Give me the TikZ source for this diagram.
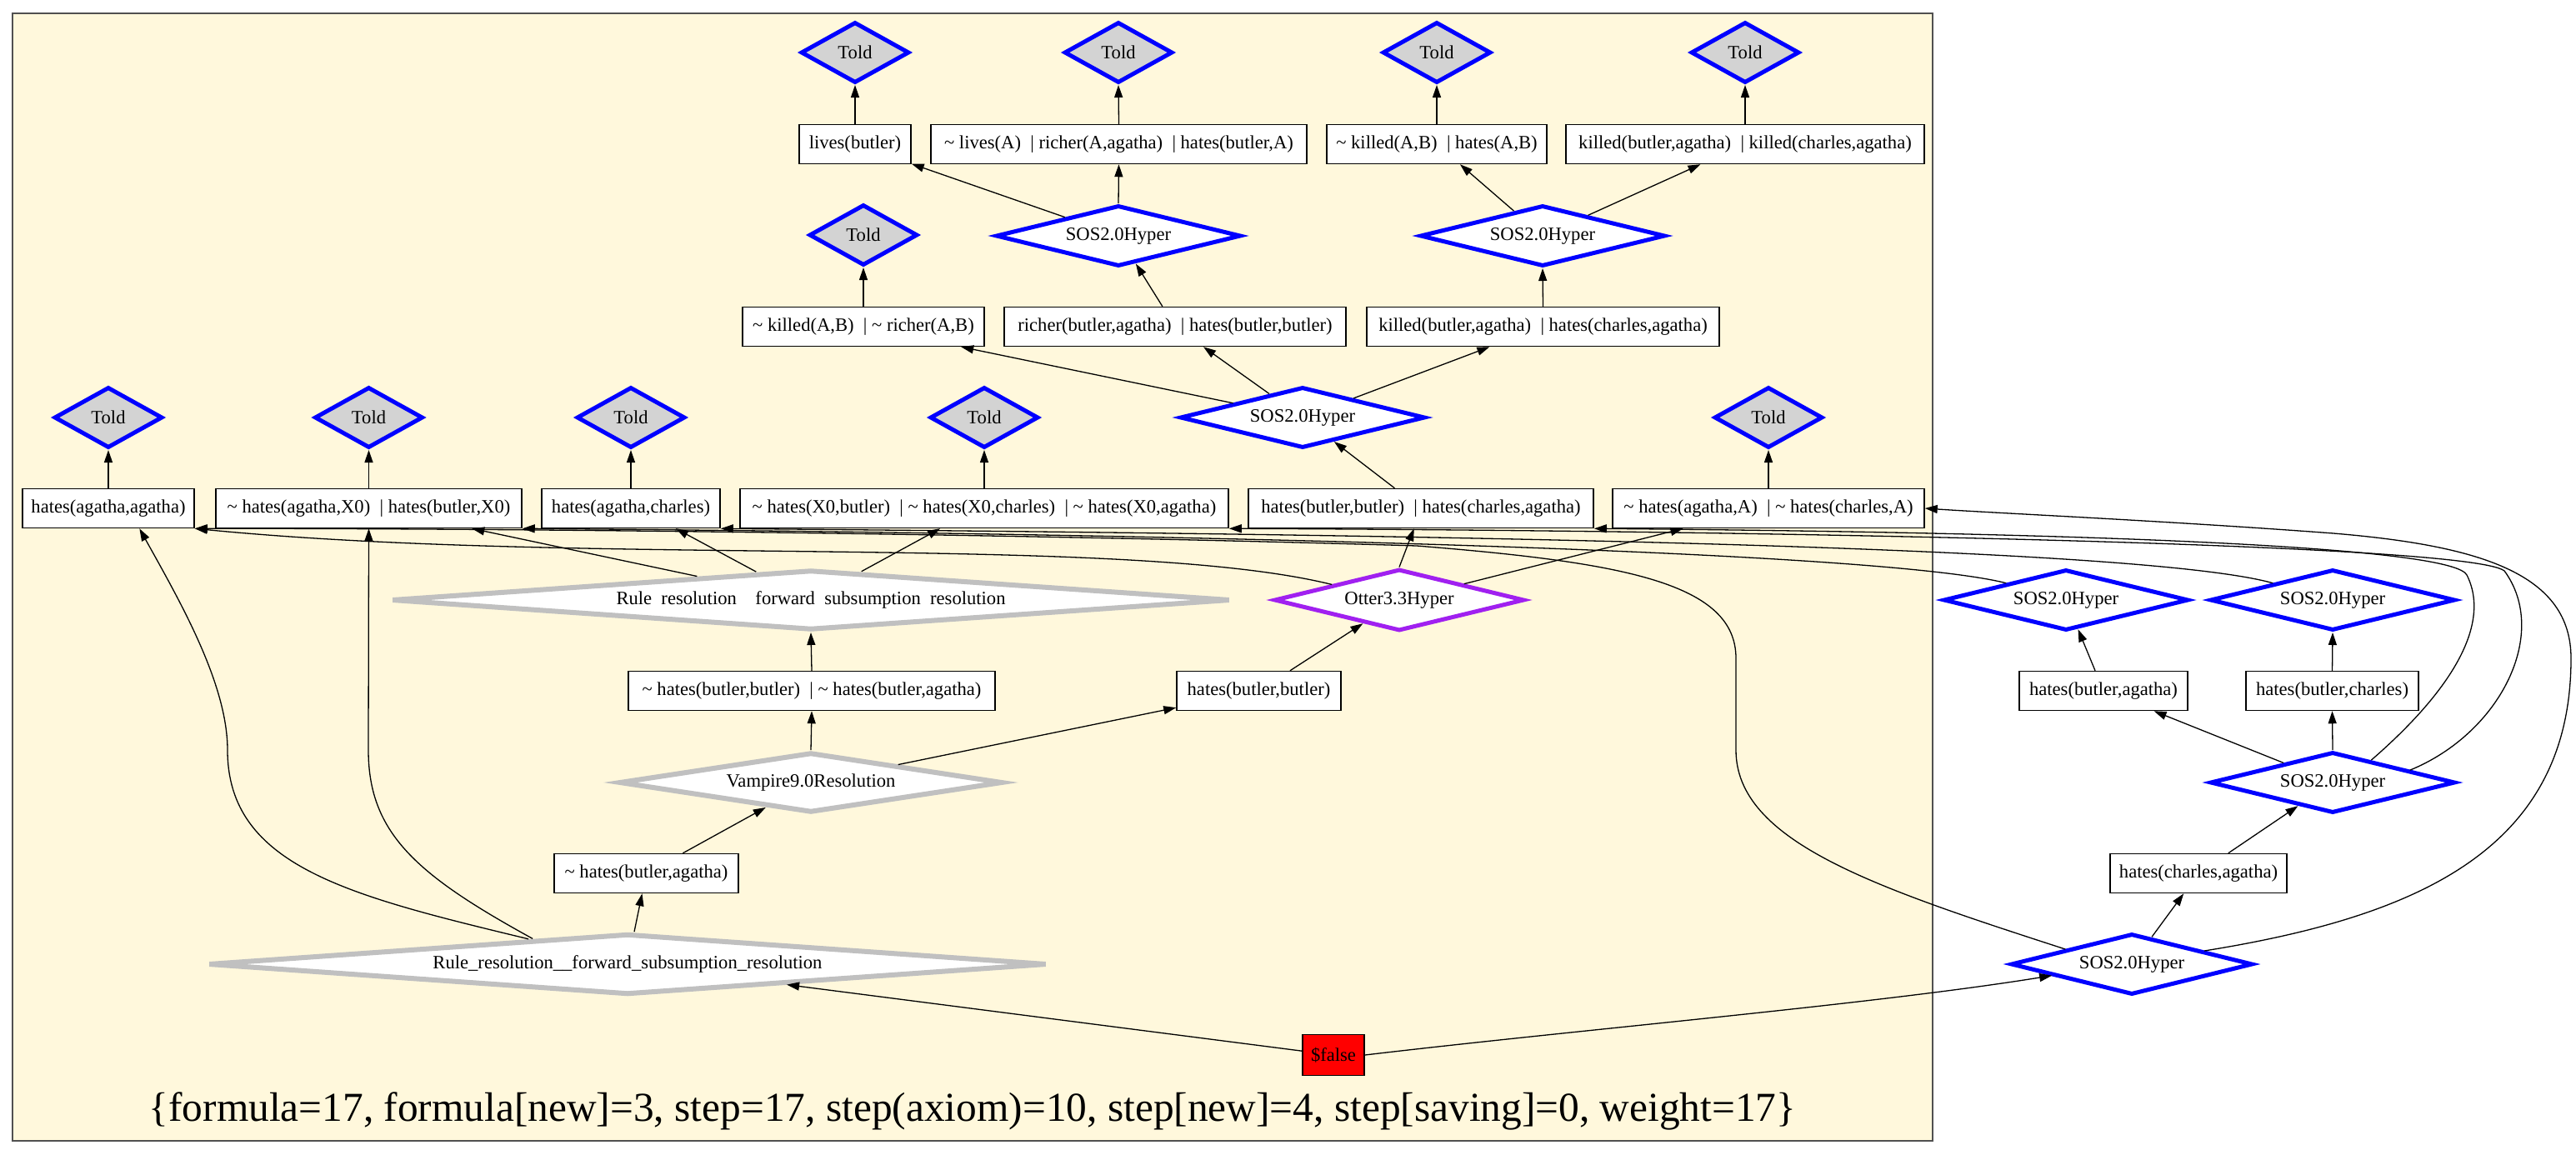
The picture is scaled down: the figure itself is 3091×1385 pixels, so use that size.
\documentclass[tikz,border=0pt]{standalone}
\usepackage{fontspec}
\setmainfont{Liberation Serif}
\usetikzlibrary{shapes.geometric,arrows.meta,calc}
\definecolor{cornsilk}{HTML}{FFF8DC}
\definecolor{toldgray}{HTML}{D3D3D3}
\definecolor{silvergr}{HTML}{C0C0C0}
\definecolor{purp}{HTML}{A020F0}
\definecolor{clborder}{HTML}{505050}
\newcommand{\nf}{\fontsize{22.6pt}{26pt}\selectfont}
\newcommand{\negt}{\textasciitilde\ }
\newcommand{\orbar}{\ \ |\ }
\begin{document}
\begin{tikzpicture}[x=1pt,y=-1pt,
  box/.style={draw=black, line width=1.5pt, fill=white, minimum height=47pt, inner sep=0pt, font=\nf},
  told/.style={diamond, draw=blue, fill=toldgray, line width=5pt, minimum width=130pt, minimum height=73pt, inner sep=0pt, font=\nf},
  sos/.style={diamond, aspect=4, draw=blue, fill=white, line width=5pt, minimum width=294pt, minimum height=73pt, inner sep=0pt, font=\nf},
  grd/.style={diamond, aspect=14, draw=silvergr, fill=white, line width=6pt, minimum height=72pt, inner sep=0pt, font=\nf},
  conn/.style={-{Triangle[length=15pt,width=10pt]}, line width=1.3pt, black},
]
\fill[white] (0,0) rectangle (3091,1385);
\useasboundingbox (0,0) rectangle (3091,1385);
\node[draw=clborder, fill=cornsilk, line width=2pt, minimum width=2304pt, minimum height=1353pt, inner sep=0pt] (cluster) at (1167,692.5) {};

% row 1
\node[told] (told1) at (1026,63) {Told};
\node[told] (told2) at (1342,63) {Told};
\node[told] (told3) at (1724,63) {Told};
\node[told] (told4) at (2094,63) {Told};
% row 2
\node[box, minimum width=134pt] (livesB) at (1026,173) {lives(butler)};
\node[box, minimum width=451pt] (livesA) at (1342.5,173) {\negt lives(A)\orbar richer(A,agatha)\orbar hates(butler,A)};
\node[box, minimum width=264pt] (kAB) at (1724,173) {\negt killed(A,B)\orbar hates(A,B)};
\node[box, minimum width=430pt] (kk) at (2094,173) {killed(butler,agatha)\orbar killed(charles,agatha)};
% row 3
\node[told] (told5) at (1036,282) {Told};
\node[sos] (sosA) at (1342,283) {SOS2.0Hyper};
\node[sos] (sosB) at (1851,283) {SOS2.0Hyper};
% row 4
\node[box, minimum width=290pt] (kr) at (1036,392) {\negt killed(A,B)\orbar\negt richer(A,B)};
\node[box, minimum width=410pt] (rbh) at (1410,392) {richer(butler,agatha)\orbar hates(butler,butler)};
\node[box, minimum width=423pt] (kh) at (1851.5,392) {killed(butler,agatha)\orbar hates(charles,agatha)};
% row 5
\node[told] (told6) at (130,501) {Told};
\node[told] (told7) at (442.5,501) {Told};
\node[told] (told8) at (757,501) {Told};
\node[told] (told9) at (1181,501) {Told};
\node[sos] (sosC) at (1563,501) {SOS2.0Hyper};
\node[told] (told10) at (2122,501) {Told};
% row 6
\node[box, minimum width=206pt] (haa) at (130,610) {hates(agatha,agatha)};
\node[box, minimum width=367pt] (hax0) at (442.5,610) {\negt hates(agatha,X0)\orbar hates(butler,X0)};
\node[box, minimum width=214pt] (hac) at (757,610) {hates(agatha,charles)};
\node[box, minimum width=586pt] (x0) at (1181,610) {\negt hates(X0,butler)\orbar\negt hates(X0,charles)\orbar\negt hates(X0,agatha)};
\node[box, minimum width=414pt] (hbhca) at (1705,610) {hates(butler,butler)\orbar hates(charles,agatha)};
\node[box, minimum width=374pt] (naA) at (2122,610) {\negt hates(agatha,A)\orbar\negt hates(charles,A)};
% row 7
\node[grd, minimum width=1006pt] (rr1) at (973,720) {Rule\enspace resolution\enspace\enspace forward\enspace subsumption\enspace resolution};
\node[sos, draw=purp, minimum width=300pt, minimum height=74pt] (otter) at (1679,720) {Otter3.3Hyper};
\node[sos] (sosE) at (2479,720) {SOS2.0Hyper};
\node[sos] (sosF) at (2799,720) {SOS2.0Hyper};
% row 8
\node[box, minimum width=440pt] (nbb) at (974,829) {\negt hates(butler,butler)\orbar\negt hates(butler,agatha)};
\node[box, minimum width=197pt] (hbb) at (1510.5,829) {hates(butler,butler)};
\node[box, minimum width=202pt] (hba) at (2524,829) {hates(butler,agatha)};
\node[box, minimum width=207pt] (hbc) at (2798.5,829) {hates(butler,charles)};
% row 9
\node[grd, aspect=6, minimum width=460pt] (vamp) at (973,939) {Vampire9.0Resolution};
\node[sos] (sosD) at (2799,939) {SOS2.0Hyper};
% row 10
\node[box, minimum width=221pt] (nba) at (775.5,1048) {\negt hates(butler,agatha)};
\node[box, minimum width=212pt] (hca) at (2638,1048) {hates(charles,agatha)};
% row 11
\node[grd, minimum width=1006pt, minimum height=73pt] (rr2) at (753,1157) {Rule\_resolution\_\_forward\_subsumption\_resolution};
\node[sos, minimum width=290pt] (sosBot) at (2558,1157) {SOS2.0Hyper};
% false
\node[box, fill=red, minimum width=74pt, minimum height=49pt] (fls) at (1600,1266) {\$false};
% label
\node[font=\fontsize{49.4pt}{57pt}\selectfont, inner sep=0pt] (lbl) at (1167,1333) {\{formula=17, formula[new]=3, step=17, step(axiom)=10, step[new]=4, step[saving]=0, weight=17\}};

% Told edges
\draw[conn] (livesB.north) -- (told1.south);
\draw[conn] (livesA.north) -- (told2.south);
\draw[conn] (kAB.north) -- (told3.south);
\draw[conn] (kk.north) -- (told4.south);
\draw[conn] (kr.north) -- (told5.south);
\draw[conn] (haa.north) -- (told6.south);
\draw[conn] (hax0.north) -- (told7.south);
\draw[conn] (hac.north) -- (told8.south);
\draw[conn] (x0.north) -- (told9.south);
\draw[conn] (naA.north) -- (told10.south);
% upper hyper edges
\draw[conn] (sosA) -- (livesB);
\draw[conn] (sosA.north) -- (livesA.south);
\draw[conn] (sosB) -- (kAB);
\draw[conn] (sosB) -- (kk);
\draw[conn] (rbh) -- (sosA);
\draw[conn] (kh.north) -- (sosB.south);
\draw[conn] (sosC) -- (kr);
\draw[conn] (sosC) -- (rbh);
\draw[conn] (sosC) -- (kh);
\draw[conn] (hbhca) -- (sosC);
% rr1
\draw[conn] ($(rr1.north)!0.27!(rr1.west)$) -- ($(hax0.south west)!0.836!(hax0.south east)$);
\draw[conn] ($(rr1.north)!0.13!(rr1.west)$) -- ($(hac.south west)!0.75!(hac.south east)$);
\draw[conn] ($(rr1.north)!0.12!(rr1.east)$) -- ($(x0.south west)!0.41!(x0.south east)$);
\draw[conn] (nbb.north) -- (rr1.south);
% otter
\draw[conn] (otter.north) -- ($(hbhca.south west)!0.48!(hbhca.south east)$);
\draw[conn] ($(otter.north)!0.51!(otter.east)$) -- ($(naA.south west)!0.227!(naA.south east)$);
\draw[conn] ($(otter.north)!0.53!(otter.west)$) .. controls (1350,640) and (700,680) .. (haa.south east);
\draw[conn] (hbb) -- (otter);
% vampire
\draw[conn] (vamp.north) -- (nbb.south);
\draw[conn] (vamp) -- (hbb);
\draw[conn] (nba) -- (vamp);
% rr2
\draw[conn] (rr2) -- (nba);
\draw[conn] ($(rr2.north)!0.235!(rr2.west)$) .. controls (420,1075) and (273,1040) .. (273,900) .. controls (273,820) and (215,720) .. ($(haa.south west)!0.68!(haa.south east)$);
\draw[conn] ($(rr2.north)!0.225!(rr2.west)$) .. controls (500,1050) and (442,1000) .. (442,900) -- (hax0.south);
% false
\draw[conn] (fls) -- (rr2);
\draw[conn] (fls.east) .. controls (1900,1235) and (2250,1205) .. ($(sosBot.west)!0.35!(sosBot.south)$);
% right part
\draw[conn] (sosBot) -- (hca);
\draw[conn] (hca) -- (sosD);
\draw[conn] (sosD) -- (hba);
\draw[conn] (sosD.north) -- (hbc.south);
\draw[conn] (hba) -- (sosE);
\draw[conn] (hbc.north) -- (sosF.south);
\draw[conn] ($(sosE.north)!0.48!(sosE.west)$) .. controls (2250,660) and (1400,640) .. (hax0.south east);
\draw[conn] ($(sosF.north)!0.48!(sosF.west)$) .. controls (2550,650) and (1500,640) .. (hac.south east);
\draw[conn] ($(sosD.north)!0.31!(sosD.east)$) .. controls (2940,830) and (2990,750) .. (2960,690) .. controls (2945,660) and (2600,640) .. (hbhca.south east);
\draw[conn] ($(sosD.north)!0.62!(sosD.east)$) .. controls (3000,880) and (3060,760) .. (3005,685) .. controls (2960,650) and (2000,636) .. (x0.south east);
\draw[conn] ($(sosBot.north)!0.54!(sosBot.west)$) .. controls (2250,1065) and (2083,1010) .. (2083,900) -- (2083,790) .. controls (2083,700) and (1950,675) .. (1700,655) .. controls (1200,640) and (600,634) .. (haa.south east);
\draw[conn] ($(sosBot.north)!0.59!(sosBot.east)$) .. controls (2900,1100) and (3085,1020) .. (3085,790) .. controls (3085,690) and (2980,655) .. (2800,640) .. controls (2600,625) and (2400,616) .. (naA.east);
\end{tikzpicture}
\end{document}
